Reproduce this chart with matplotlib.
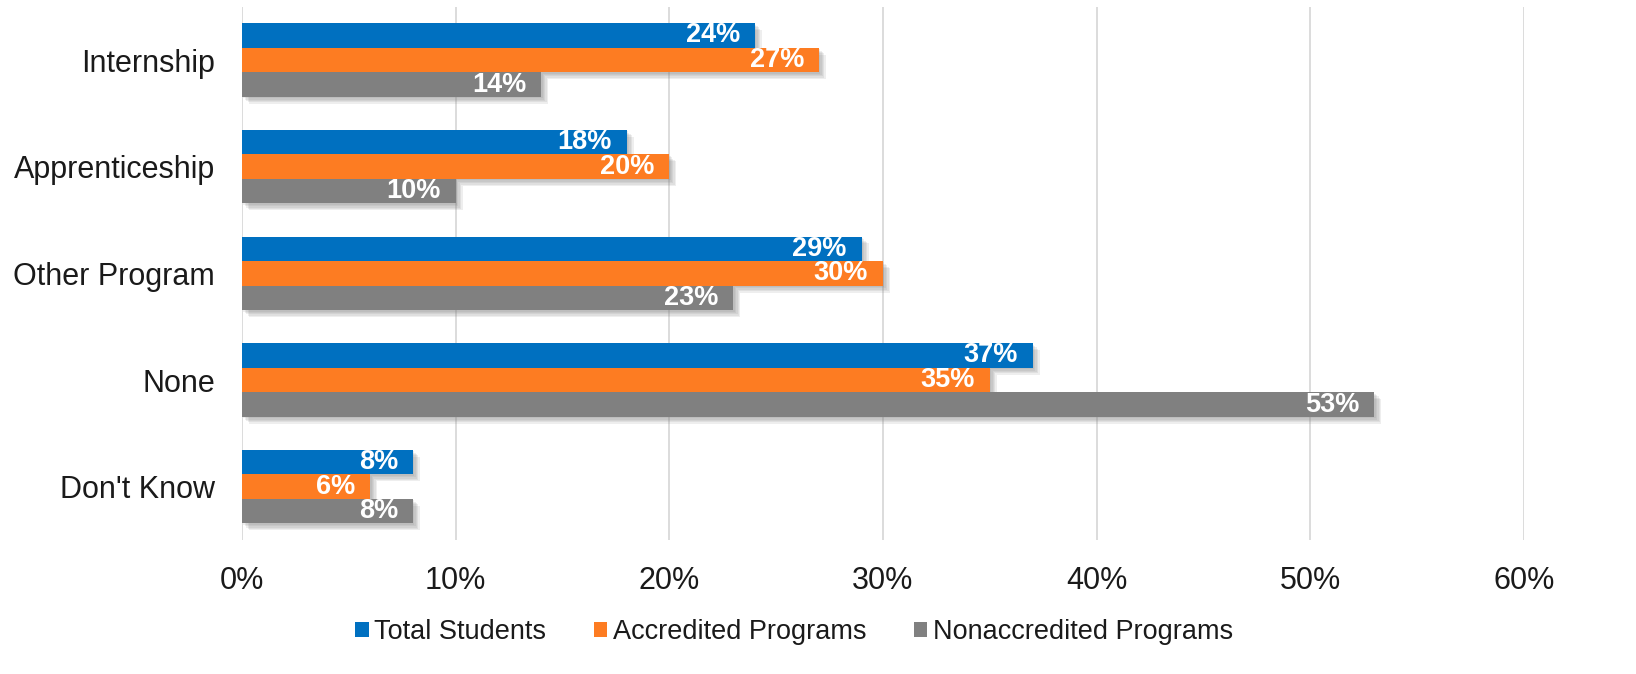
import matplotlib.pyplot as plt
import matplotlib.patheffects as pe
from matplotlib.patches import Patch
import numpy as np

categories = ["Internship", "Apprenticeship", "Other Program", "None", "Don't Know"]
total_students = [24, 18, 29, 37, 8]
accredited = [27, 20, 30, 35, 6]
nonaccredited = [14, 10, 23, 53, 8]
series_names = ["Total Students", "Accredited Programs", "Nonaccredited Programs"]
cores = ["#0070C0", "#FD7C22", "#808080"]

plt.rcParams["font.family"] = ["Liberation Sans", "DejaVu Sans"]

fig = plt.figure(figsize=(16.36, 6.74), dpi=100)
ax = fig.add_axes([242 / 1636, 1 - 540 / 674, 1282 / 1636, 533.3 / 674])

y = np.arange(len(categories))
altura = 0.23
# sombra "borrada" feita com várias camadas deslocadas
sombra = [pe.SimplePatchShadow(offset=(d, -d), shadow_rgbFace="#7f7f7f", alpha=0.13) for d in (1, 2, 3, 4, 5)]
sombra.append(pe.Normal())

for i, (valores, nome, cor) in enumerate(zip([total_students, accredited, nonaccredited], series_names, cores)):
    pos = y + (i - 1) * altura
    barras = ax.barh(pos, valores, height=altura, color=cor, zorder=3)
    for b in barras:
        b.set_path_effects(sombra)
    for p, v in zip(pos, valores):
        ax.annotate(f"{v}%", xy=(v, p), xytext=(-15, 0), textcoords="offset pixels",
                    ha="right", va="center", color="white", fontsize=19.5, fontweight="bold", zorder=4)

ax.set_xlim(0, 60)
ax.set_ylim(len(categories) - 0.5, -0.5)
ax.set_yticks(y)
ax.set_yticklabels(categories, fontsize=22, color="#1a1a1a")
ax.set_xticks(np.arange(0, 61, 10))
ax.set_xticklabels([f"{t}%" for t in range(0, 61, 10)], fontsize=22, color="#1a1a1a")
ax.tick_params(axis="both", length=0)
ax.tick_params(axis="y", pad=19.5)
ax.tick_params(axis="x", pad=18.5)
ax.grid(axis="x", color="#d9d9d9", linewidth=1.3, zorder=0)
for s in ax.spines.values():
    s.set_visible(False)

handles = [Patch(facecolor=c, label=n) for c, n in zip(cores, series_names)]
fig.legend(handles=handles, loc="center", bbox_to_anchor=(794 / 1636, 1 - 632 / 674), ncol=3, frameon=False,
           fontsize=19.5, handlelength=0.5, handleheight=0.5, handletextpad=0.2, columnspacing=1.75,
           labelcolor="#1a1a1a")

plt.savefig("out.png", dpi=100)
plt.close(fig)
